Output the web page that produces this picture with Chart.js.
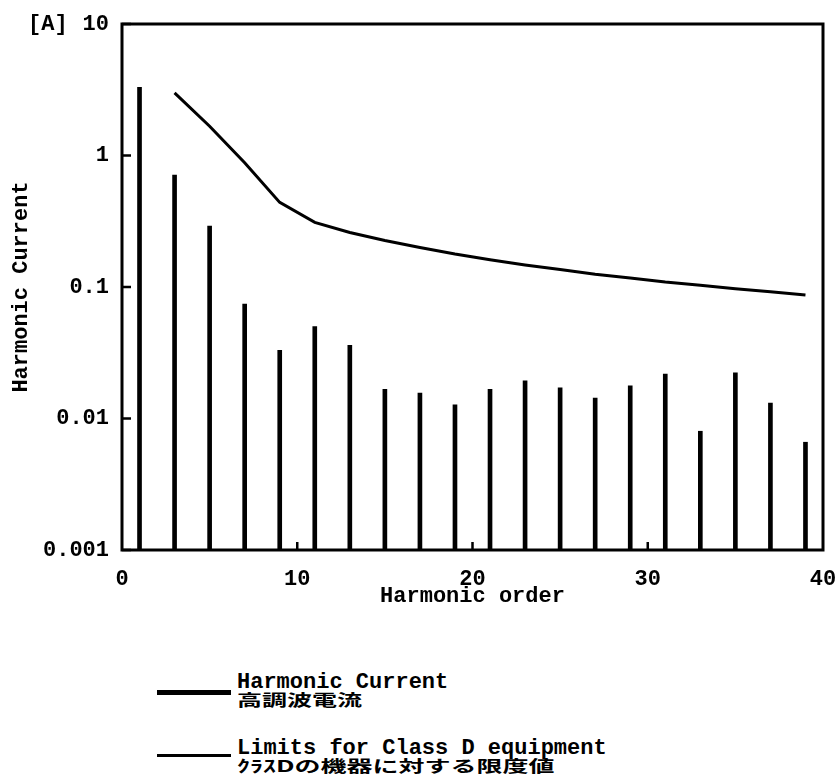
<!DOCTYPE html>
<html>
<head>
<meta charset="utf-8">
<script src="https://cdn.jsdelivr.net/npm/chart.js@4"></script>
<style>
  html, body { margin: 0; padding: 0; background: #fff; }
  body { width: 835px; height: 784px; position: relative; overflow: hidden; }
  #wrap { position: absolute; left: 0; top: 0; width: 835px; height: 610px; }
  .lg-line { position: absolute; background: #000; }
  .lg-txt { position: absolute; font-family: "Liberation Mono", monospace; font-weight: bold; font-size: 22px; line-height: 22px; color: #000; white-space: nowrap; }
  .lg-cjk { position: absolute; font-family: "Noto Sans CJK JP", sans-serif; font-weight: bold; font-size: 25px; line-height: 25px; height: 25px; color: #000; white-space: nowrap; transform: scaleY(0.62); transform-origin: left center; }
</style>
</head>
<body>
<div id="wrap"><canvas id="c"></canvas></div>

<div class="lg-line" style="left:157px; top:690px; width:74px; height:5px;"></div>
<div class="lg-txt" style="left:237px; top:672px;">Harmonic Current</div>
<div class="lg-cjk" style="left:237px; top:687px;">高調波電流</div>

<div class="lg-line" style="left:157px; top:754px; width:74px; height:3px;"></div>
<div class="lg-txt" style="left:237px; top:738px;">Limits for Class D equipment</div>
<div class="lg-cjk" style="left:237px; top:752px; font-size:26px;">ｸﾗｽDの機器に対する限度値</div>

<script>
// ---- data ----
const harmonicOrders = [1, 3, 5, 7, 9, 11, 13, 15, 17, 19, 21, 23, 25, 27, 29, 31, 33, 35, 37, 39];
const harmonicCurrent = [3.3, 0.71, 0.29, 0.074, 0.033, 0.050, 0.036, 0.0167, 0.0156, 0.0127,
                         0.0167, 0.0193, 0.0171, 0.0143, 0.0177, 0.0218, 0.0080, 0.0222, 0.0131, 0.0066];
const limitOrders = [3, 5, 7, 9, 11, 13, 15, 17, 19, 21, 23, 25, 27, 29, 31, 33, 35, 37, 39];
const classDLimits = [2.99, 1.67, 0.88, 0.44, 0.31, 0.26, 0.226, 0.20, 0.178, 0.161,
                      0.147, 0.136, 0.125, 0.117, 0.109, 0.103, 0.097, 0.092, 0.087];
const yTickValues = [0.001, 0.01, 0.1, 1, 10];
const yTickLabels = ["0.001", "0.01", "0.1", "1", "10"];
const xTickValues = [0, 10, 20, 30, 40];
const xInnerTicks = [10, 20, 30];
const yUnitLabel = "[A]";
const xTitle = "Harmonic order";
const yTitle = "Harmonic Current";

const FONT = { family: "'Liberation Mono', monospace", size: 22, weight: 'bold' };
const yBase = yTickValues[0];

const framePlugin = {
  id: 'frame',
  afterDraw(chart) {
    const { ctx, chartArea: a, scales } = chart;
    ctx.save();
    ctx.strokeStyle = '#000';
    ctx.lineWidth = 3;
    ctx.strokeRect(a.left, a.top, a.right - a.left, a.bottom - a.top);
    ctx.lineWidth = 2.5;
    ctx.beginPath();
    yTickValues.forEach(v => {
      const y = scales.y.getPixelForValue(v);
      ctx.moveTo(a.left, y); ctx.lineTo(a.left + 9, y);
    });
    xInnerTicks.forEach(v => {
      const x = scales.x.getPixelForValue(v);
      ctx.moveTo(x, a.bottom); ctx.lineTo(x, a.bottom - 8);
    });
    ctx.stroke();
    ctx.fillStyle = '#000';
    ctx.font = "bold 22px 'Liberation Mono', monospace";
    ctx.textBaseline = 'middle';
    ctx.textAlign = 'left';
    ctx.fillText(yUnitLabel, 28, scales.y.getPixelForValue(yTickValues[yTickValues.length - 1]));
    ctx.restore();
  }
};

new Chart(document.getElementById('c'), {
  type: 'bar',
  data: {
    datasets: [
      {
        type: 'bar',
        label: 'Harmonic Current',
        data: harmonicOrders.map((h, i) => ({ x: h, y: [yBase, harmonicCurrent[i]] })),
        backgroundColor: '#000',
        borderWidth: 0,
        barThickness: 4,
        grouped: false,
        order: 2
      },
      {
        type: 'line',
        label: 'Limits for Class D equipment',
        data: limitOrders.map((h, i) => ({ x: h, y: classDLimits[i] })),
        borderColor: '#000',
        borderWidth: 3,
        pointRadius: 0,
        tension: 0,
        fill: false,
        order: 1
      }
    ]
  },
  options: {
    responsive: true,
    maintainAspectRatio: false,
    animation: false,
    devicePixelRatio: 1,
    layout: { autoPadding: false, padding: { left: 8, right: 12, top: 24, bottom: 0 } },
    plugins: { legend: { display: false }, tooltip: { enabled: false } },
    scales: {
      x: {
        type: 'linear',
        min: 0, max: 40,
        offset: false,
        afterBuildTicks: s => { s.ticks = xTickValues.map(v => ({ value: v })); },
        afterFit: s => { s.height = 60; s.paddingLeft = 0; s.paddingRight = 0; },
        grid: { display: false, drawTicks: false },
        border: { display: false },
        ticks: { color: '#000', font: FONT, padding: 16, maxRotation: 0 },
        title: { display: true, text: xTitle, color: '#000', font: FONT, padding: 0 }
      },
      y: {
        type: 'logarithmic',
        min: 0.001, max: 10,
        afterBuildTicks: s => { s.ticks = yTickValues.map(v => ({ value: v })); },
        afterFit: s => { s.width = 114; s.paddingTop = 0; s.paddingBottom = 0; },
        grid: { display: false, drawTicks: false },
        border: { display: false },
        ticks: {
          color: '#000', font: FONT, padding: 13,
          callback: (v) => { const i = yTickValues.indexOf(v); return i >= 0 ? yTickLabels[i] : ''; }
        },
        title: { display: true, text: yTitle, color: '#000', font: FONT, padding: 0 }
      }
    }
  },
  plugins: [framePlugin]
});
</script>
</body>
</html>
